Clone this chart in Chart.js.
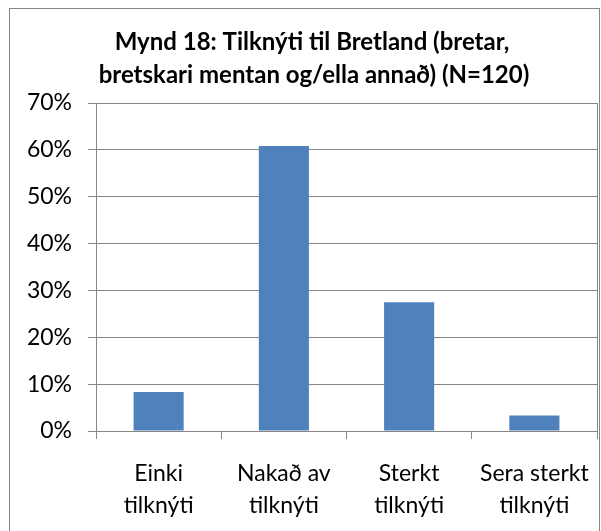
<!DOCTYPE html>
<html>
<head>
<meta charset="utf-8">
<script src="https://cdn.jsdelivr.net/npm/chart.js@4"></script>
<style>
    html, body { margin: 0; padding: 0; background: #ffffff; }
    #wrap { width: 601px; height: 531px; position: relative; }
</style>
</head>
<body>
<div id="wrap"><canvas id="chart" width="601" height="531"></canvas></div>
<script>
const titleLines = ['Mynd 18: Tilknýti til Bretland (bretar,', 'bretskari mentan og/ella annað) (N=120)'];
const categories = [['Einki', 'tilknýti'], ['Nakað av', 'tilknýti'], ['Sterkt', 'tilknýti'], ['Sera sterkt', 'tilknýti']];
const shares = [8.33, 60.83, 27.5, 3.33];
const yTicks = [0, 10, 20, 30, 40, 50, 60, 70];

const gray = '#868686';
const barColor = '#4F81BD';
const font = 'Lato';

// frame + title + plot border, drawn the way excel does it
const framePlugin = {
    id: 'frame',
    afterDraw(chart) {
        const ctx = chart.ctx;
        const area = chart.chartArea;
        ctx.save();
        ctx.strokeStyle = gray;
        ctx.lineWidth = 1;
        ctx.strokeRect(9.5, 8.5, 590, 540);
        ctx.beginPath();
        ctx.moveTo(Math.round(area.right) + 0.5, area.top);
        ctx.lineTo(Math.round(area.right) + 0.5, area.bottom);
        ctx.stroke();

        ctx.fillStyle = '#000';
        ctx.font = 'bold 24px ' + font;
        ctx.textAlign = 'center';
        ctx.textBaseline = 'alphabetic';
        ctx.fillText(titleLines[0], 312, 50);
        ctx.fillText(titleLines[1], 314, 83);
        ctx.restore();
    }
};

new Chart(document.getElementById('chart').getContext('2d'), {
    type: 'bar',
    data: {
        labels: categories,
        datasets: [{
            data: shares,
            backgroundColor: barColor,
            borderWidth: 0,
            barPercentage: 0.4,
            categoryPercentage: 1
        }]
    },
    options: {
        responsive: false,
        animation: false,
        layout: { padding: { left: 9, right: 4, top: 103, bottom: 0 } },
        plugins: {
            legend: { display: false },
            tooltip: { enabled: false }
        },
        scales: {
            x: {
                grid: { drawOnChartArea: false, drawTicks: true, tickLength: 8, color: gray },
                border: { color: gray },
                ticks: { color: '#000', font: { family: font, size: 23, lineHeight: 1.39 }, padding: 19, maxRotation: 0 },
                afterFit: scale => {
                    scale.height = 100;
                    scale.paddingLeft = 0;
                    scale.paddingRight = 0;
                }
            },
            y: {
                min: 0,
                max: 70,
                grid: { color: gray, tickLength: 8 },
                border: { color: gray },
                afterBuildTicks: scale => {
                    scale.ticks = yTicks.map(v => ({ value: v }));
                },
                ticks: {
                    color: '#000',
                    font: { family: font, size: 23 },
                    padding: 16,
                    callback: v => v + '%'
                },
                afterFit: scale => { scale.width = 87; }
            }
        }
    },
    plugins: [framePlugin]
});
</script>
</body>
</html>
